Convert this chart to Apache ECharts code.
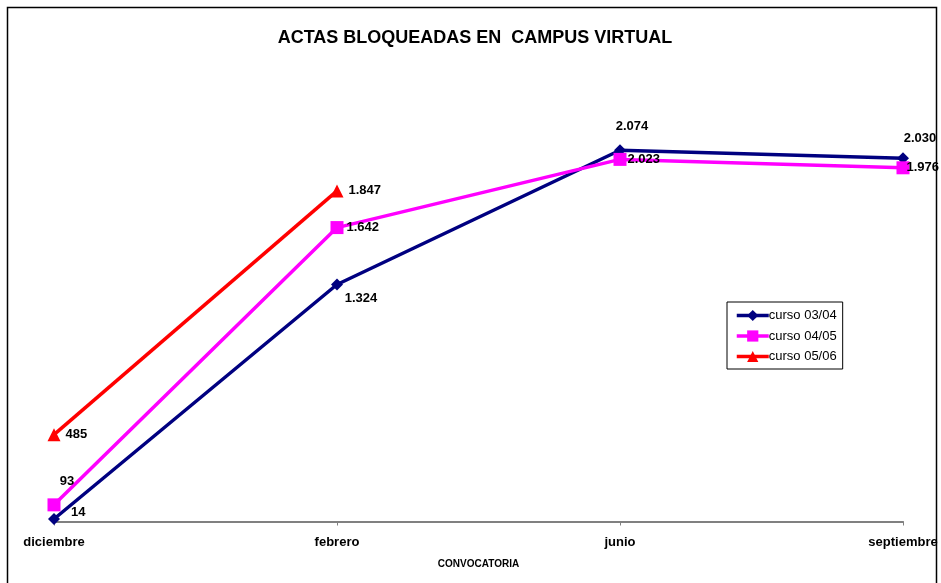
<!DOCTYPE html>
<html><head><meta charset="utf-8">
<script src="https://cdn.jsdelivr.net/npm/echarts@6/dist/echarts.min.js"></script>
<style>html,body{margin:0;padding:0;background:#fff}#c{width:941px;height:583px}</style>
</head><body><div id="c"></div>
<script>
const categories = ['diciembre', 'febrero', 'junio', 'septiembre'];
const curso0304 = [14, 1324, 2074, 2030];
const curso0405 = [93, 1642, 2023, 1976];
const curso0506 = [485, 1847];
const seriesNames = ['curso 03/04', 'curso 04/05', 'curso 05/06'];

const fmt = v => v >= 1000 ? Math.floor(v / 1000) + '.' + String(v % 1000).padStart(3, '0') : String(v);
const labelBase = {show: true, fontFamily: 'Liberation Sans', fontWeight: 'bold', fontSize: 13, color: '#000'};
function withLabels(vals, pos) {
  return vals.map((v, i) => ({value: v, label: Object.assign({}, labelBase, {formatter: fmt(v)}, pos[i])}));
}
const pos0304 = [{position: 'right', offset: [6, -7]}, {position: 'bottom', offset: [24, -4]}, {position: 'top', offset: [12, -6]}, {position: 'top', offset: [17, -2]}];
const pos0405 = [{position: 'top', offset: [13, -5]}, {position: 'right', offset: [-2, 0]}, {position: 'right', offset: [-4, 0]}, {position: 'right', offset: [-8, 0]}];
const pos0506 = [{position: 'right', offset: [0, 0]}, {position: 'right', offset: [0, 0]}];

const chart = echarts.init(document.getElementById('c'));
chart.setOption({
  backgroundColor: '#fff',
  animation: false,
  title: {text: 'ACTAS BLOQUEADAS EN  CAMPUS VIRTUAL', left: 470, textAlign: 'center', top: 24,
    textStyle: {fontFamily: 'Liberation Sans', fontWeight: 'bold', fontSize: 18, color: '#000'}},
  graphic: [{type: 'rect', shape: {x: 7.5, y: 7.5, width: 929, height: 600}, style: {fill: null, stroke: '#000', lineWidth: 1.5}, silent: true}],
  legend: {orient: 'vertical', left: 727, top: 302, padding: [7, 6, 6, 8], itemGap: 7.5, itemWidth: 32, itemHeight: 14,
    borderColor: '#000', borderWidth: 1, data: seriesNames,
    lineStyle: {width: 3.5},
    textStyle: {fontFamily: 'Liberation Sans', fontSize: 13, color: '#000', padding: [0, 0, 0, -5]}},
  grid: {left: 54, right: 38, top: 74, bottom: 61.5, containLabel: false},
  xAxis: {type: 'category', data: categories, boundaryGap: false,
    name: 'CONVOCATORIA', nameLocation: 'middle', nameGap: 38,
    nameTextStyle: {fontFamily: 'Liberation Sans', fontWeight: 'bold', fontSize: 10, color: '#000'},
    axisLine: {lineStyle: {color: '#808080', width: 2}},
    axisTick: {show: true, length: 4, lineStyle: {color: '#808080', width: 1}},
    axisLabel: {margin: 14, fontFamily: 'Liberation Sans', fontWeight: 'bold', fontSize: 13, color: '#000'}},
  yAxis: {type: 'value', min: 0, max: 2500, show: false, splitLine: {show: false}},
  series: [
    {name: seriesNames[0], type: 'line', data: withLabels(curso0304, pos0304), symbol: 'diamond', symbolSize: 12,
      itemStyle: {color: '#000080'}, lineStyle: {color: '#000080', width: 3.5}, z: 3},
    {name: seriesNames[1], type: 'line', data: withLabels(curso0405, pos0405), symbol: 'rect', symbolSize: 13,
      itemStyle: {color: '#FF00FF'}, lineStyle: {color: '#FF00FF', width: 3.5}, z: 4},
    {name: seriesNames[2], type: 'line', data: withLabels(curso0506, pos0506), symbol: 'triangle', symbolSize: 13,
      itemStyle: {color: '#FF0000'}, lineStyle: {color: '#FF0000', width: 3.5}, z: 5}
  ]
});
</script></body></html>
